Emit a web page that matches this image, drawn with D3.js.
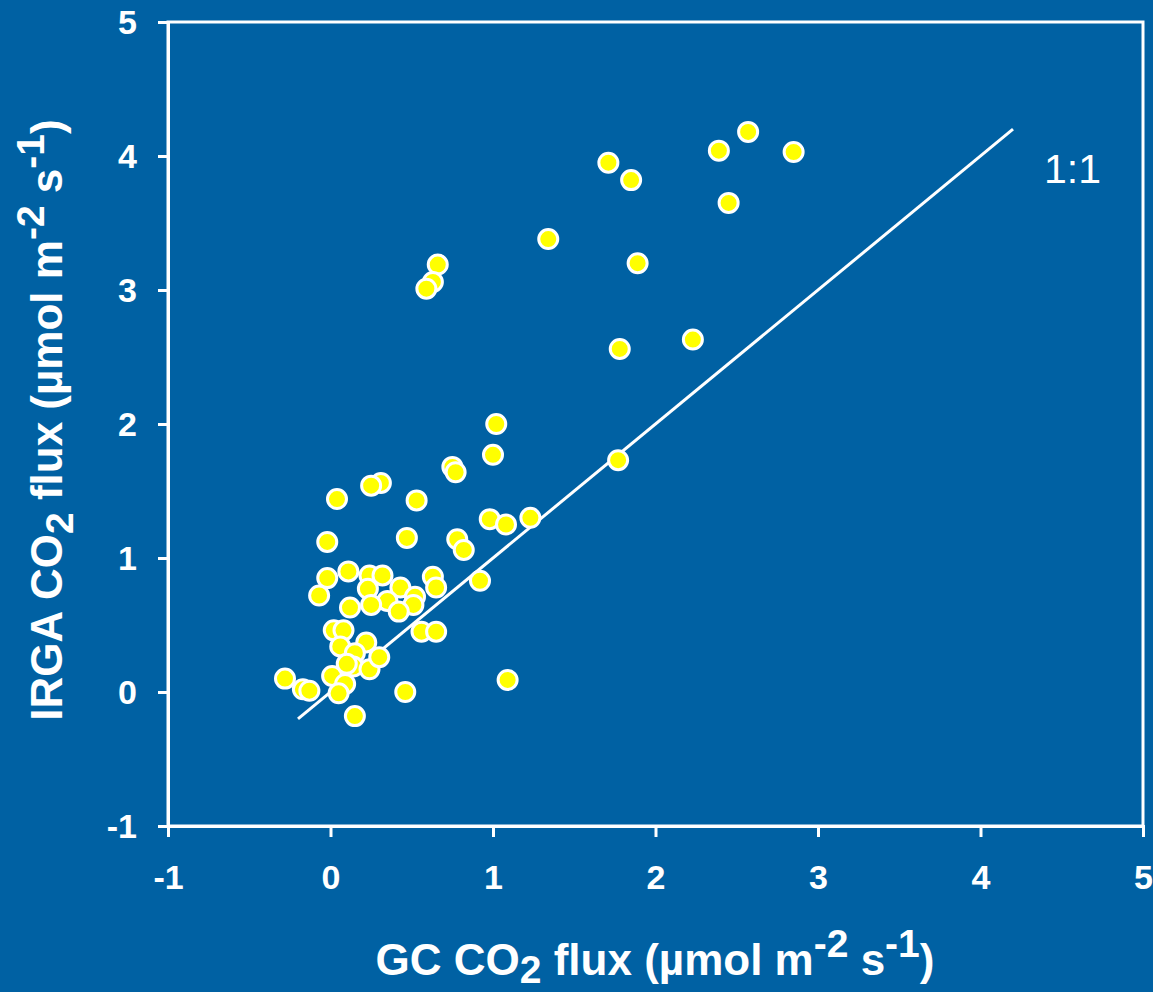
<!DOCTYPE html>
<html>
<head>
<meta charset="utf-8">
<script src="https://cdn.jsdelivr.net/npm/d3@7"></script>
<style>
  html, body { margin: 0; padding: 0; background: #0061a3; }
  svg { display: block; }
  text { font-family: "Liberation Sans", Arial, sans-serif; fill: #fff; }
</style>
</head>
<body>
<script>
// GC vs IRGA flux
var gcFlux = [
  2.57, 2.39, 2.85, 1.71, 1.85, 2.45, 1.34, 1.89, 0.66, 0.63, 0.59, 1.78, 2.23,
  1.77, 1.02, 1.00, 0.75, 0.77, 0.31, 0.25, 0.04, 0.53, 0.98, 1.08, 1.23,
  -0.02, 0.47, 0.78, 0.82, 0.92, 0.63, 0.65, -0.02, -0.07, 0.11, 0.24, 0.32,
  0.23, 0.43, 0.52, 0.51, 0.35, 0.25, 0.42, 0.12, 0.02, 0.08, 0.22, 0.06,
  0.15, 0.14, 0.24, 0.01, -0.28, -0.17, -0.13, 0.09, 0.05, 0.15, 0.46, 1.09,
  0.56, 0.65, 0.10, 0.30
];
var irgaFlux = [
  4.18, 4.04, 4.03, 3.95, 3.82, 3.65, 3.38, 3.20, 3.19, 3.06, 3.01, 2.56, 2.63,
  1.73, 2.00, 1.77, 1.68, 1.64, 1.56, 1.54, 1.44, 1.43, 1.29, 1.25, 1.30,
  1.12, 1.15, 1.14, 1.06, 0.83, 0.86, 0.78, 0.85, 0.72, 0.90, 0.87, 0.87,
  0.77, 0.78, 0.71, 0.65, 0.68, 0.65, 0.60, 0.63, 0.46, 0.46, 0.37, 0.34,
  0.29, 0.19, 0.17, 0.12, 0.10, 0.02, 0.01, 0.06, -0.01, -0.18, 0.00, 0.09,
  0.45, 0.45, 0.21, 0.26
];
var tickVals = [-1, 0, 1, 2, 3, 4, 5];
var oneToOne = [-0.2, 4.2];

var W = 1153, H = 992;
var m = {left: 168, right: 1143, top: 22, bottom: 826};

var svg = d3.select("body").append("svg").attr("width", W).attr("height", H);
svg.append("rect").attr("width", W).attr("height", H).attr("fill", "#0061a3");

var x = d3.scaleLinear().domain([-1, 5]).range([m.left, m.right]);
var y = d3.scaleLinear().domain([-1, 5]).range([m.bottom, m.top]);

// plot frame
svg.append("rect")
  .attr("x", m.left).attr("y", m.top)
  .attr("width", m.right - m.left).attr("height", m.bottom - m.top)
  .attr("fill", "none").attr("stroke", "#fff").attr("stroke-width", 3);

var fmt = function(d) { return String(d); };  // plain hyphen for negatives
var xAxis = svg.append("g").attr("transform", "translate(0," + m.bottom + ")")
  .call(d3.axisBottom(x).tickValues(tickVals).tickSize(11).tickPadding(28).tickFormat(fmt));
var yAxis = svg.append("g").attr("transform", "translate(" + m.left + ",0)")
  .call(d3.axisLeft(y).tickValues(tickVals).tickSize(10).tickPadding(21).tickFormat(fmt));

[xAxis, yAxis].forEach(function(a) {
  a.select(".domain").attr("stroke", "#fff").attr("stroke-width", 3);
  a.selectAll(".tick line").attr("stroke", "#fff").attr("stroke-width", 3);
  a.selectAll(".tick text")
    .attr("fill", "#fff")
    .style("font-family", "'Liberation Sans', Arial, sans-serif")
    .style("font-size", "34px").style("font-weight", "bold");
});
xAxis.selectAll(".tick text").attr("dy", "0.71em");
yAxis.selectAll(".tick text").attr("dy", "0.35em");

// 1:1 line
svg.append("line")
  .attr("x1", x(oneToOne[0])).attr("y1", y(oneToOne[0]))
  .attr("x2", x(oneToOne[1])).attr("y2", y(oneToOne[1]))
  .attr("stroke", "#fff").attr("stroke-width", 3);

svg.append("text")
  .attr("x", 1044).attr("y", 183)
  .style("font-size", "41px")
  .text("1:1");

// points
var pts = gcFlux.map(function(d, i) { return [d, irgaFlux[i]]; });
svg.append("g").selectAll("circle").data(pts).enter().append("circle")
  .attr("cx", function(d) { return x(d[0]); })
  .attr("cy", function(d) { return y(d[1]); })
  .attr("r", 9.5)
  .attr("fill", "#ffff00")
  .attr("stroke", "#fff").attr("stroke-width", 3);

// axis titles with sub/superscripts
function title(sel, lead, sub) {
  sel.style("font-size", "44px").style("font-weight", "bold");
  sel.append("tspan").text(lead + "CO");
  sel.append("tspan").attr("dy", sub).style("font-size", "39px").text("2");
  sel.append("tspan").attr("dy", -sub).text(" flux (\u00b5mol m");
  sel.append("tspan").attr("dy", -18).style("font-size", "39px").text("-2");
  sel.append("tspan").attr("dy", 18).text(" s");
  sel.append("tspan").attr("dy", -18).style("font-size", "39px").text("-1");
  sel.append("tspan").attr("dy", 18).text(")");
}

var xt = svg.append("text").attr("x", 655).attr("y", 975).attr("text-anchor", "middle");
title(xt, "GC ", 8);

var yt = svg.append("text")
  .attr("transform", "translate(62,420) rotate(-90)")
  .attr("text-anchor", "middle");
title(yt, "IRGA ", 11);
</script>
</body>
</html>
